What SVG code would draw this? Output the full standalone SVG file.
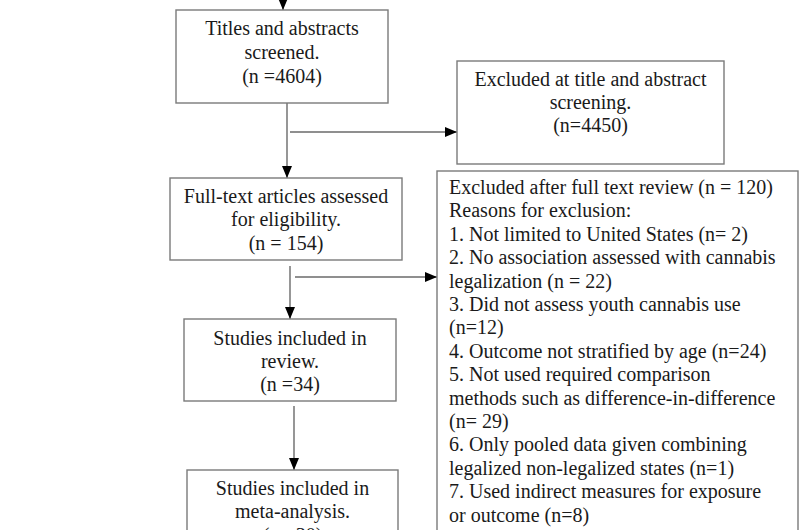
<svg xmlns="http://www.w3.org/2000/svg" width="800" height="530" viewBox="0 0 800 530">
<style>
  .box { fill: #ffffff; stroke: #7a7a7a; stroke-width: 1.4; }
  .t { font-family: "Liberation Serif", "Times New Roman", serif; font-size: 20px; fill: #1a1a1a; }
  .c { text-anchor: middle; }
  .ln { fill: none; stroke: #6a6a6a; stroke-width: 1.4; }
</style>
<defs>
  <marker id="ah" markerWidth="12" markerHeight="10" refX="12" refY="5" orient="auto" markerUnits="userSpaceOnUse">
    <path d="M0,0 L12,5 L0,10 z" fill="#000"/>
  </marker>
</defs>
<rect width="800" height="530" fill="#ffffff"/>

<g id="connectors">
  <line class="ln" x1="283" y1="0" x2="283" y2="10" marker-end="url(#ah)"/>
  <line class="ln" x1="287" y1="103" x2="287" y2="178" marker-end="url(#ah)"/>
  <line class="ln" x1="290" y1="132" x2="457" y2="132" marker-end="url(#ah)"/>
  <line class="ln" x1="290" y1="266" x2="290" y2="319" marker-end="url(#ah)"/>
  <line class="ln" x1="295" y1="277" x2="437" y2="277" marker-end="url(#ah)"/>
  <line class="ln" x1="294" y1="406" x2="294" y2="470" marker-end="url(#ah)"/>
</g>

<g id="screened">
  <rect class="box" x="176" y="10" width="212" height="93"/>
  <text class="t c" x="282" y="35">Titles and abstracts</text>
  <text class="t c" x="282" y="59">screened.</text>
  <text class="t c" x="282" y="83">(n =4604)</text>
</g>

<g id="excluded-title">
  <rect class="box" x="457" y="61" width="267" height="103"/>
  <text class="t c" x="590.5" y="86">Excluded at title and abstract</text>
  <text class="t c" x="590.5" y="109">screening.</text>
  <text class="t c" x="590.5" y="132">(n=4450)</text>
</g>

<g id="fulltext">
  <rect class="box" x="170" y="178" width="232" height="82"/>
  <text class="t c" x="286" y="203">Full-text articles assessed</text>
  <text class="t c" x="286" y="226">for eligibility.</text>
  <text class="t c" x="286" y="250">(n = 154)</text>
</g>

<g id="excluded-fulltext">
  <rect class="box" x="437" y="171" width="361" height="380"/>
  <text class="t" x="449" y="194">Excluded after full text review (n = 120)</text>
  <text class="t" x="449" y="217.4">Reasons for exclusion:</text>
  <text class="t" x="449" y="240.8">1. Not limited to United States (n= 2)</text>
  <text class="t" x="449" y="264.2">2. No association assessed with cannabis</text>
  <text class="t" x="449" y="287.6">legalization (n = 22)</text>
  <text class="t" x="449" y="311">3. Did not assess youth cannabis use</text>
  <text class="t" x="449" y="334.4">(n=12)</text>
  <text class="t" x="449" y="357.8">4. Outcome not stratified by age (n=24)</text>
  <text class="t" x="449" y="381.2">5. Not used required comparison</text>
  <text class="t" x="449" y="404.6">methods such as difference-in-difference</text>
  <text class="t" x="449" y="428">(n= 29)</text>
  <text class="t" x="449" y="451.4">6. Only pooled data given combining</text>
  <text class="t" x="449" y="474.8">legalized non-legalized states (n=1)</text>
  <text class="t" x="449" y="498.2">7. Used indirect measures for exposure</text>
  <text class="t" x="449" y="521.6">or outcome (n=8)</text>
</g>

<g id="review">
  <rect class="box" x="184" y="319" width="212" height="82"/>
  <text class="t c" x="290" y="345">Studies included in</text>
  <text class="t c" x="290" y="368">review.</text>
  <text class="t c" x="290" y="391">(n =34)</text>
</g>

<g id="meta">
  <rect class="box" x="187" y="470" width="211" height="90"/>
  <text class="t c" x="292.5" y="495">Studies included in</text>
  <text class="t c" x="292.5" y="518">meta-analysis.</text>
  <text class="t c" x="292.5" y="542">(n =30)</text>
</g>
</svg>
